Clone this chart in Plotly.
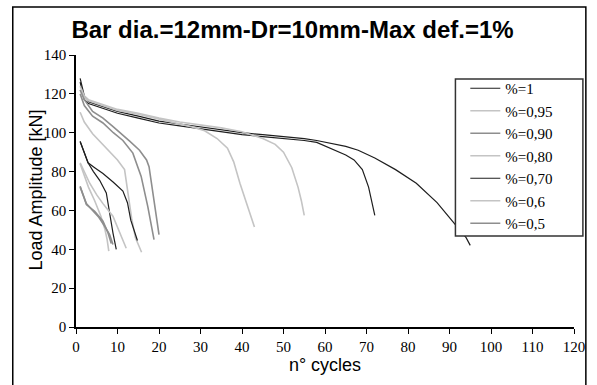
import plotly.graph_objects as go

# ---- data ----
series_names = ["%=1", "%=0,95", "%=0,90", "%=0,80", "%=0,70", "%=0,6", "%=0,5"]
series_colors = ["#1e1e1e", "#c4c4c4", "#8e8e8e", "#c4c4c4", "#1e1e1e", "#c4c4c4", "#8e8e8e"]
series_widths = [1.2, 1.6, 1.6, 1.6, 1.2, 1.6, 1.6]

# %=1
p100_a_x = [1, 2, 3, 5, 8, 10, 15, 20, 25, 30, 35, 40, 45, 50, 55, 58, 62, 65, 68, 72, 77, 82, 87, 91, 94, 95]
p100_a_y = [128, 119, 116, 114.5, 112.5, 111, 108.5, 106, 104.5, 103, 101.5, 100, 99, 98, 97, 96, 94.5, 93, 91, 87, 81, 74, 64, 54, 46, 42]
p100_b_x = [1, 2, 3, 5, 8, 10, 15, 20, 25, 30, 35, 40, 45, 50, 55, 58, 62, 65, 67, 69, 70.5, 71.3, 72]
p100_b_y = [126, 117, 115, 113.5, 111.5, 110, 107.5, 105, 103.5, 102, 100.5, 99, 98, 97, 96, 95, 91.5, 88.5, 86, 81, 72, 65, 57.5]
# %=0,95
p095_a_x = [1, 2, 3, 5, 8, 10, 15, 20, 25, 30, 35, 40, 45, 48, 50, 52, 53.5, 54.3, 55]
p095_a_y = [124, 119, 117, 115.5, 113.5, 112, 110, 107.5, 105.5, 104, 102.5, 100.5, 97, 94, 90, 82, 72, 65, 57.5]
p095_b_x = [1, 2, 3, 5, 8, 10, 15, 20, 25, 28, 31, 34, 36.5, 38, 39.5, 41, 42, 43]
p095_b_y = [122, 118, 116.5, 115, 113, 111.5, 109.5, 107, 104.5, 103, 101, 97, 92, 85, 74, 64, 57, 51.5]
# %=0,90
p090_a_x = [1, 2, 4, 6.5, 9, 11, 13, 15.3, 17, 17.6, 18.4, 19.2, 20]
p090_a_y = [122, 117, 111, 107.5, 103, 99, 95.5, 91, 86, 82.5, 70.5, 58.5, 47.5]
p090_b_x = [1, 2, 4, 6.5, 9, 11.3, 13.7, 15.7, 17.3, 18.8]
p090_b_y = [120, 114, 108.5, 105, 100, 96, 89.5, 77.5, 62, 45]
# %=0,80
p080_a_x = [1, 2, 4, 6, 8, 10, 11.7, 12.6, 13.4, 14.3, 15.8]
p080_a_y = [110.5, 105.5, 99.5, 95, 91, 86, 81, 68, 56, 46, 38.5]
# %=0,70
p070_a_x = [1, 2, 2.9, 4.5, 6.5, 9, 11.3, 12.4, 13.2, 14.8]
p070_a_y = [95.5, 90, 84.5, 82, 79, 74.5, 70, 64, 55, 44.5]
p070_b_x = [1, 2, 2.9, 4.2, 5.7, 7.3, 8.1, 8.9, 9.7]
p070_b_y = [95.5, 90, 84.5, 80, 75.5, 69, 58.5, 48.5, 40]
# %=0,6
p060_a_x = [1, 2, 3.3, 5, 6.5, 8.9, 10.5, 12.1]
p060_a_y = [84.5, 80, 74, 68, 63.5, 57, 48.5, 40.5]
p060_b_x = [1, 2, 3, 4.5, 6, 7, 7.5, 7.9]
p060_b_y = [84, 78, 72, 65, 57, 50, 45, 39]
# %=0,5
p050_a_x = [1, 2.5, 4.5, 6.5, 7.7, 8.5]
p050_a_y = [72.5, 63, 59.5, 54.5, 48.5, 43]
p050_b_x = [1, 2.5, 4, 5.5, 7, 8.1, 8.9]
p050_b_y = [72, 63.5, 60, 56.5, 51.5, 47.5, 42.5]

groups = [
    [(p100_a_x, p100_a_y), (p100_b_x, p100_b_y)],
    [(p095_a_x, p095_a_y), (p095_b_x, p095_b_y)],
    [(p090_a_x, p090_a_y), (p090_b_x, p090_b_y)],
    [(p080_a_x, p080_a_y)],
    [(p070_a_x, p070_a_y), (p070_b_x, p070_b_y)],
    [(p060_a_x, p060_a_y), (p060_b_x, p060_b_y)],
    [(p050_a_x, p050_a_y), (p050_b_x, p050_b_y)],
]

x_ticks = list(range(0, 121, 10))
y_ticks = list(range(0, 141, 20))

SERIF = "Liberation Serif, Times New Roman, serif"
SANS = "Liberation Sans, Arial, sans-serif"

# plot area geometry (px) used for paper-coordinate conversions
L, R, T, B = 76, 17, 55, 58
PW, PH = 597 - L - R, 385 - T - B


def px_x(p):
    return (p - L) / PW


def px_y(p):
    return (385 - B - p) / PH


fig = go.Figure()
for i, (name, color, w, curves) in enumerate(zip(series_names, series_colors, series_widths, groups)):
    for j, (xs, ys) in enumerate(curves):
        fig.add_trace(go.Scatter(
            x=xs, y=ys, mode="lines", name=name,
            legendgroup=name, showlegend=(j == 0),
            line=dict(color=color, width=w),
        ))

fig.update_layout(
    width=597, height=385,
    margin=dict(l=L, r=R, t=T, b=B),
    paper_bgcolor="white", plot_bgcolor="white",
    title=dict(
        text="<b>Bar dia.=12mm-Dr=10mm-Max def.=1%</b>",
        font=dict(family=SANS, size=24, color="black"),
        x=0.49, xanchor="center", y=0.922, yanchor="middle",
    ),
    showlegend=True,
    legend=dict(
        x=px_x(470), y=px_y(72), xanchor="left", yanchor="top",
        bgcolor="rgba(0,0,0,0)", borderwidth=0,
        font=dict(family=SERIF, size=15, color="black"),
        traceorder="normal", tracegroupgap=0,
    ),
    xaxis=dict(
        range=[0, 120], tickvals=x_ticks, ticktext=[str(v) for v in x_ticks],
        showgrid=False, zeroline=False, showline=True, linecolor="black", linewidth=1.5,
        ticks="outside", ticklen=5, tickcolor="black", tickwidth=1.2,
        tickfont=dict(family=SERIF, size=15, color="black"),
        title=dict(text="n° cycles", font=dict(family=SANS, size=18, color="black"), standoff=0),
    ),
    yaxis=dict(
        range=[0, 140], tickvals=y_ticks, ticktext=[str(v) for v in y_ticks],
        showgrid=False, zeroline=False, showline=True, linecolor="black", linewidth=1.5,
        ticks="outside", ticklen=5, tickcolor="black", tickwidth=1.2,
        tickfont=dict(family=SERIF, size=15, color="black"),
    ),
    annotations=[dict(
        text="Load Amplitude [kN]", textangle=-90, showarrow=False,
        xref="paper", yref="paper", x=px_x(36), y=px_y(190),
        xanchor="center", yanchor="middle",
        font=dict(family=SANS, size=18, color="black"),
    )],
    shapes=[
        dict(
            type="rect", xref="paper", yref="paper",
            x0=px_x(12), x1=px_x(592), y0=px_y(420), y1=px_y(7),
            line=dict(color="black", width=1.5), fillcolor="rgba(0,0,0,0)", layer="below",
        ),
        dict(
            type="rect", xref="paper", yref="paper",
            x0=px_x(460), x1=px_x(589), y0=px_y(236), y1=px_y(79),
            line=dict(color="#333333", width=1.5), fillcolor="white", layer="above",
        ),
    ],
)

fig.write_html("out.html")
